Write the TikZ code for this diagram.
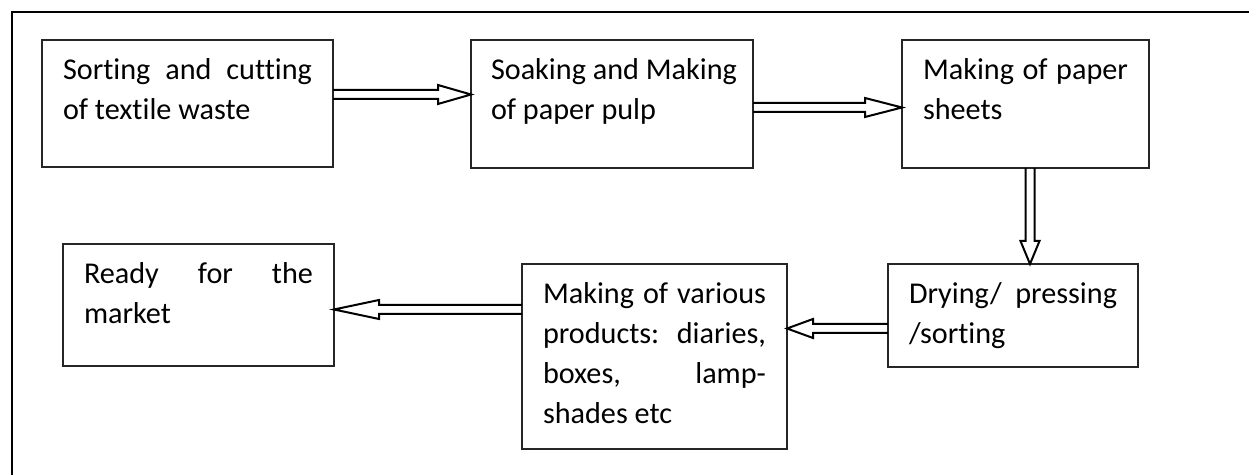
\documentclass[tikz,border=0pt]{standalone}
\usepackage{fontspec}
\setmainfont{Carlito}[Ligatures=CommonOff]
\usetikzlibrary{calc}

\tikzset{
	stage/.style={draw=black!85, line width=0.75pt, anchor=north west, outer sep=0pt,
		inner xsep=10.5pt, inner ysep=0pt, text height=20pt, align=justify,
		font=\fontsize{15.1}{20}\selectfont},
	flowline/.style={draw=black, line width=1pt, line join=miter},
	frame/.style={draw=black, line width=1.25pt}
}

% hollow block arrow: [head length]{start}{tip}
\newcommand{\flowarrow}[3][15pt]{%
	\coordinate (fs) at (#2);
	\coordinate (ft) at (#3);
	\coordinate (fb) at ($(ft)!#1!(fs)$);
	\draw[flowline] ($(fs)!2.25pt!90:(ft)$) -- ($(fb)!2.25pt!90:(ft)$) -- ($(fb)!4.75pt!90:(ft)$)
		-- (ft) -- ($(fb)!4.75pt!-90:(ft)$) -- ($(fb)!2.25pt!-90:(ft)$) -- ($(fs)!2.25pt!-90:(ft)$);
}

\begin{document}
\begin{tikzpicture}[x=0.5pt, y=-0.5pt]
	\useasboundingbox (0,0) rectangle (1249,475);
	\draw[frame] (12,475) -- (12,12) -- (1249,12);

	% top row
	\node[stage, text width=124.5pt, text depth=43.5pt] (sort) at (42,40)
		{Sorting and cutting\linebreak of textile waste};
	\node[stage, inner xsep=10pt, text width=121pt, text depth=44pt] (soak) at (471,40)
		{\mbox{Soaking and Making}\linebreak of paper pulp};
	\node[stage, text width=102.5pt, text depth=44pt] (sheet) at (902,40)
		{Making of paper\linebreak sheets};

	% bottom row
	\node[stage, text width=104pt, text depth=31.5pt] (dry) at (888,264)
		{Drying/ pressing\linebreak /sorting};
	\node[stage, text width=111.5pt, text depth=72.5pt] (prod) at (522,264)
		{Making of various\linebreak products: diaries,\linebreak boxes, lamp-\linebreak shades etc};
	\node[stage, text width=114.5pt, text depth=41pt] (ready) at (63,244)
		{Ready for the\linebreak market};

	% connectors
	\coordinate (a1) at ([yshift=4.5pt]sort.east);
	\coordinate (a2) at ([yshift=-1.75pt]soak.east);
	\coordinate (a3) at ([xshift=2.25pt]sheet.south);
	\coordinate (a4) at ([yshift=-6.5pt]dry.west);
	\coordinate (a5) at ([yshift=23.5pt]prod.west);
	\flowarrow[16.5pt]{a1}{a1 -| soak.west}
	\flowarrow[18.5pt]{a2}{a2 -| sheet.west}
	\flowarrow[11.5pt]{a3}{a3 |- dry.north}
	\flowarrow[13pt]{a4}{a4 -| prod.east}
	\flowarrow[22.5pt]{a5}{a5 -| ready.east}
\end{tikzpicture}
\end{document}
